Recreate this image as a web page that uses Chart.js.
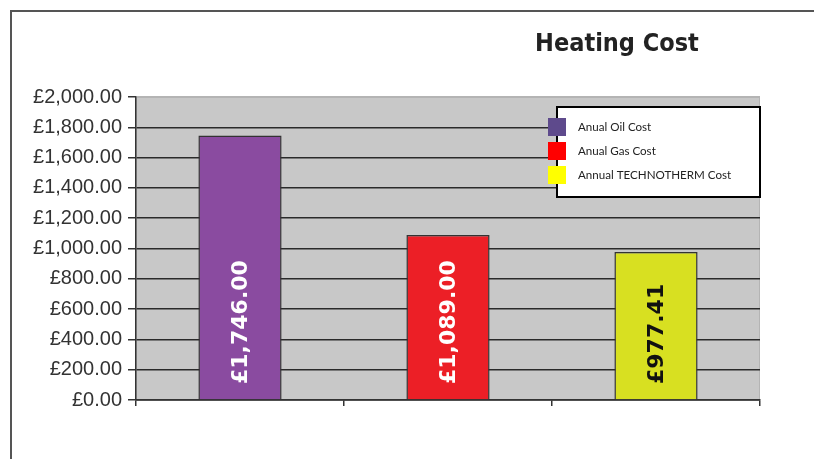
<!DOCTYPE html>
<html>
<head>
<meta charset="utf-8">
<script src="https://cdn.jsdelivr.net/npm/chart.js@4.4.1/dist/chart.umd.min.js"></script>
<style>
  html, body { margin: 0; padding: 0; background: #ffffff; }
  #wrap { width: 814px; height: 459px; position: relative; }
</style>
</head>
<body>
<div id="wrap"><canvas id="c" width="814" height="459"></canvas></div>
<script>
const titleText = "Heating Cost";
const categories = ["Anual Oil Cost", "Anual Gas Cost", "Annual TECHNOTHERM Cost"];
const costValues = [1746.00, 1089.00, 977.41];
const valueLabels = ["£1,746.00", "£1,089.00", "£977.41"];
const barColors = ["#8a4ba0", "#ec1f26", "#d8e021"];
const labelColors = ["#ffffff", "#ffffff", "#111111"];
const legendColors = ["#5e4a8c", "#ff0000", "#ffff00"];
const yTicks = [0, 200, 400, 600, 800, 1000, 1200, 1400, 1600, 1800, 2000];

function fmtPound(v) {
  return "£" + v.toLocaleString("en-GB", { minimumFractionDigits: 2, maximumFractionDigits: 2 });
}

const decorPlugin = {
  id: "decor",
  beforeDraw(chart) {
    const ctx = chart.ctx;
    const a = chart.chartArea;
    ctx.save();
    ctx.fillStyle = "#ffffff";
    ctx.fillRect(0, 0, chart.width, chart.height);
    // outer frame
    ctx.strokeStyle = "#555555";
    ctx.lineWidth = 2;
    ctx.beginPath();
    ctx.moveTo(11, chart.height + 2);
    ctx.lineTo(11, 11);
    ctx.lineTo(chart.width + 2, 11);
    ctx.stroke();
    // plot background
    ctx.fillStyle = "#c8c8c8";
    ctx.fillRect(a.left, a.top, a.right - a.left, a.bottom - a.top);
    ctx.strokeStyle = "#b4b4b4";
    ctx.lineWidth = 1;
    ctx.strokeRect(a.left + 0.5, a.top + 0.5, a.right - a.left - 1, a.bottom - a.top);
    // title
    ctx.fillStyle = "#222222";
    ctx.font = "bold 25px 'DejaVu Sans Condensed', 'Liberation Sans Narrow', Arial, sans-serif";
    ctx.textAlign = "center";
    ctx.textBaseline = "middle";
    ctx.fillText(titleText, 617, 44);
    ctx.restore();
  },
  afterDatasetsDraw(chart) {
    const ctx = chart.ctx;
    const meta = chart.getDatasetMeta(0);
    ctx.save();
    // value labels rotated inside bars, anchored near the bar base
    meta.data.forEach((bar, i) => {
      ctx.save();
      ctx.translate(bar.x + 1, 384);
      ctx.rotate(-Math.PI / 2);
      ctx.font = "bold 22px 'DejaVu Sans', Verdana, sans-serif";
      ctx.fillStyle = labelColors[i];
      ctx.textAlign = "left";
      ctx.textBaseline = "middle";
      ctx.fillText(valueLabels[i], 0, 0);
      ctx.restore();
    });
    // legend box
    const lx = 557, ly = 107, lw = 203, lh = 90;
    ctx.fillStyle = "#ffffff";
    ctx.fillRect(lx, ly, lw, lh);
    ctx.strokeStyle = "#000000";
    ctx.lineWidth = 2;
    ctx.strokeRect(lx, ly, lw, lh);
    ctx.font = "11.6px Lato, 'Open Sans', 'Liberation Sans', sans-serif";
    ctx.textAlign = "left";
    ctx.textBaseline = "middle";
    categories.forEach((name, i) => {
      const yy = 127 + i * 24;
      ctx.fillStyle = legendColors[i];
      ctx.fillRect(548, yy - 9, 18, 18);
      ctx.fillStyle = "#222222";
      ctx.fillText(name, 578, yy);
    });
    ctx.restore();
  }
};

new Chart(document.getElementById("c"), {
  type: "bar",
  data: {
    labels: categories,
    datasets: [{
      label: titleText,
      data: costValues,
      backgroundColor: barColors,
      borderColor: "#333333",
      borderWidth: 1.5,
      barPercentage: 0.4,
      categoryPercentage: 1.0
    }]
  },
  options: {
    responsive: false,
    animation: false,
    devicePixelRatio: 1,
    layout: { padding: { left: 0, right: 54, top: 97, bottom: 53 } },
    plugins: {
      legend: { display: false },
      title: { display: false },
      tooltip: { enabled: false }
    },
    scales: {
      x: {
        grid: {
          offset: true,
          drawOnChartArea: false,
          drawTicks: true,
          tickLength: 6,
          color: "#333333",
          lineWidth: 1.5
        },
        border: { display: true, color: "#333333", width: 1.5 },
        ticks: { display: false }
      },
      y: {
        min: 0,
        max: 2000,
        afterFit(scale) { scale.width = 136; },
        afterBuildTicks(scale) { scale.ticks = yTicks.map(v => ({ value: v })); },
        grid: {
          color: (c) => (c.tick && c.tick.value === 2000) ? "#b4b4b4" : "#2a2a2a",
          tickColor: "#333333",
          lineWidth: 1.5,
          tickLength: 8,
          drawTicks: true
        },
        border: { display: true, color: "#333333", width: 1.5 },
        ticks: {
          padding: 6,
          color: "#333333",
          font: { family: "'Liberation Sans', Arial, sans-serif", size: 20 },
          callback: (v) => fmtPound(v)
        }
      }
    }
  },
  plugins: [decorPlugin]
});
</script>
</body>
</html>
